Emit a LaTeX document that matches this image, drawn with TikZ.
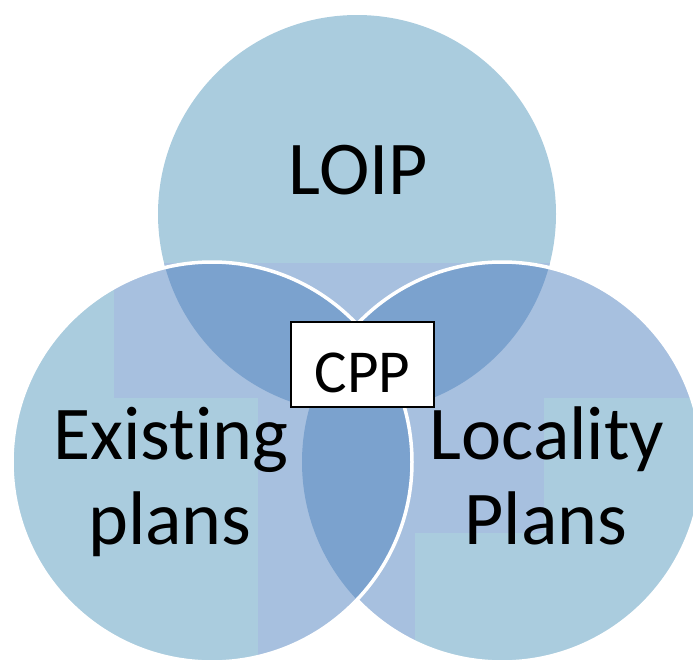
\documentclass[tikz,border=0pt]{standalone}
\usepackage{fontspec}
\setmainfont{Carlito}[Ligatures={NoCommon}]
\definecolor{vennbase}{RGB}{170,204,222}
\definecolor{vennlav}{RGB}{167,192,223}
\definecolor{venndark}{RGB}{123,162,206}
\tikzset{
  venntext/.style={font=\fontsize{76}{85}\selectfont, text=black, inner sep=0pt},
  ringline/.style={draw=white, line width=3.5pt},
  cppbox/.style={draw=black, fill=white, line width=1.3pt, inner sep=0pt,
    minimum width=143pt, minimum height=85pt, text height=55pt, text depth=0pt,
    font=\fontsize{61}{70}\selectfont}
}
% flat fills of the three overlapping rings
\newcommand\ringfills{%
  \fill[vennbase] (ctop) circle (199pt) (cleft) circle (200pt) (cright) circle (200pt);
  \begin{scope}
    \clip (ctop) circle (199pt) (cleft) circle (200pt) (cright) circle (200pt);
    \fill[vennlav] (114,263) rectangle (693,398);
    \fill[vennlav] (258,398) rectangle (544,533);
    \fill[vennlav] (258,533) rectangle (415,659);
  \end{scope}
  \begin{scope}
    \clip (ctop) circle (199pt);
    \fill[venndark] (cleft) circle (200pt);
    \fill[venndark] (cright) circle (200pt);
  \end{scope}
  \begin{scope}
    \clip (cleft) circle (200pt);
    \fill[venndark] (cright) circle (200pt);
  \end{scope}%
}
\begin{document}
\begin{tikzpicture}[x=1pt,y=-1pt]
  \useasboundingbox (0,0) rectangle (693,659);
  \coordinate (ctop) at (357,214);
  \coordinate (cleft) at (212,462);
  \coordinate (cright) at (502,462);

  \ringfills
  \draw[ringline] (cright) circle (200pt);
  \begin{scope}
    \clip (cleft) circle (200pt);
    \ringfills
  \end{scope}
  \draw[ringline] (cleft) circle (200pt);

  \node[venntext, anchor=base] (loip) at (358.5,194) {LOIP};
  \node[venntext, anchor=base] (exist1) at (171,459) {Existing};
  \node[venntext, anchor=base] (exist2) at (170,544) {plans};
  \node[venntext, anchor=base] (local1) at (547,459) {Locality};
  \node[venntext, anchor=base] (local2) at (546,544) {Plans};
  \node[cppbox] (cpp) at (362.5,364.5) {CPP};
\end{tikzpicture}
\end{document}
